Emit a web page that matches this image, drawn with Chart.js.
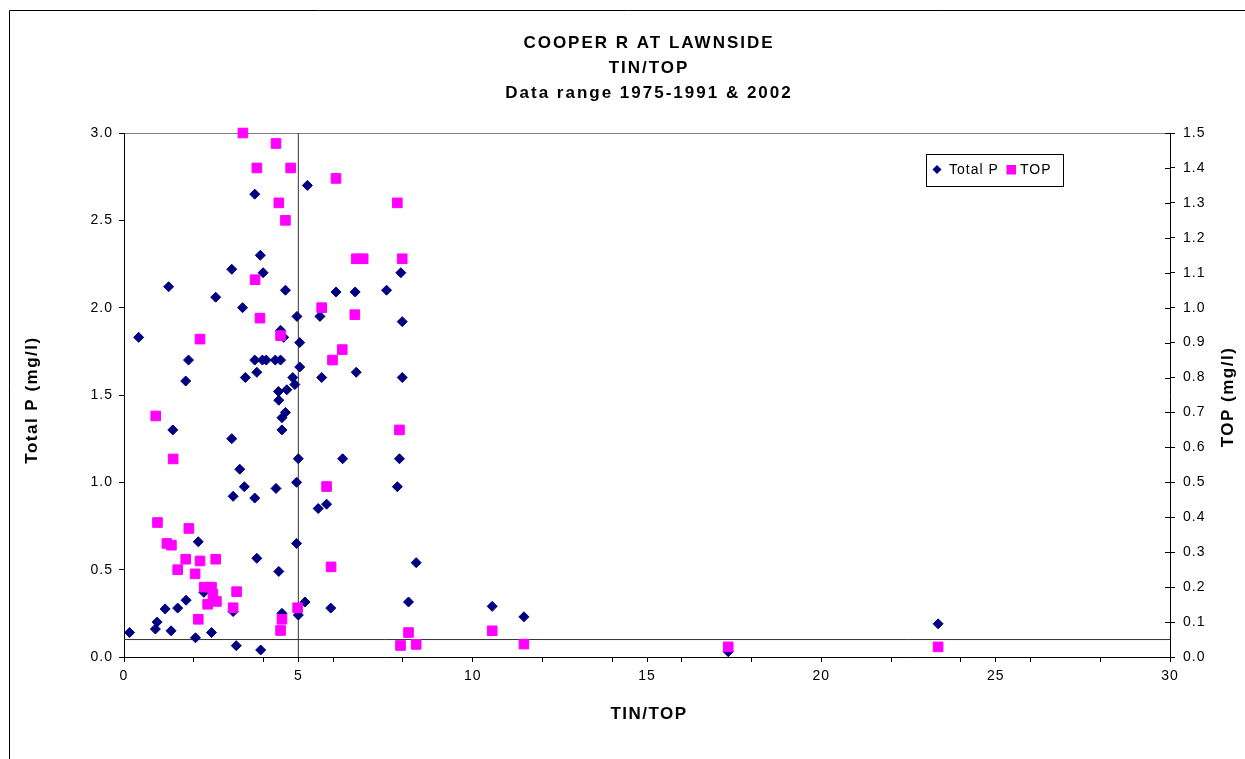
<!DOCTYPE html>
<html>
<head>
<meta charset="utf-8">
<title>Cooper R at Lawnside - TIN/TOP</title>
<script src="https://cdn.jsdelivr.net/npm/chart.js@4.4.1/dist/chart.umd.min.js"></script>
<style>
  html, body { margin: 0; padding: 0; background: #fff; }
  #wrap { width: 1245px; height: 759px; }
</style>
</head>
<body>
<div id="wrap"><canvas id="grafico" width="1245" height="759"></canvas></div>
<script>
const titleLines = ['COOPER R AT LAWNSIDE', 'TIN/TOP', 'Data range 1975-1991 & 2002'];
const xTitle = 'TIN/TOP';
const yTitle = 'Total P (mg/l)';
const y2Title = 'TOP (mg/l)';

// Total P (left axis) against TIN/TOP
const ratioP = [0.16, 0.42, 0.90, 0.95, 1.18, 1.28, 1.35, 1.40, 1.54, 1.77,
    1.78, 1.85, 2.05, 2.13, 2.29, 2.51, 2.63, 3.09, 3.09, 3.13,
    3.13, 3.22, 3.32, 3.40, 3.45, 3.48, 3.75, 3.75, 3.75, 3.81,
    3.81, 3.91, 3.92, 3.97, 3.99, 4.08, 4.34, 4.36, 4.43, 4.44,
    4.44, 4.49, 4.49, 4.53, 4.53, 4.53, 4.58, 4.63, 4.63, 4.67,
    4.84, 4.90, 4.95, 4.95, 4.96, 5.00, 5.00, 5.04, 5.04, 5.19,
    5.26, 5.57, 5.62, 5.67, 5.81, 5.93, 6.08, 6.27, 6.63, 6.66,
    7.53, 7.84, 7.90, 7.94, 7.98, 7.98, 8.16, 8.38, 10.56, 11.47,
    17.33, 23.35];
const totalP = [0.14, 1.83, 0.16, 0.20, 0.275, 2.12, 0.15, 1.30, 0.28, 1.58,
    0.325, 1.70, 0.11, 0.66, 0.37, 0.14, 2.06, 2.22, 1.25, 0.92,
    0.26, 0.065, 1.075, 2.00, 0.975, 1.60, 2.65, 1.70, 0.91, 1.63,
    0.565, 2.30, 0.04, 1.70, 2.20, 1.70, 1.70, 0.965, 1.52, 1.47,
    0.49, 1.87, 1.70, 1.37, 1.30, 0.25, 1.83, 2.10, 1.40, 1.53,
    1.60, 1.56, 1.00, 0.65, 1.95, 1.135, 0.24, 1.80, 1.66, 0.315,
    2.70, 0.85, 1.95, 1.60, 0.875, 0.28, 2.09, 1.135, 2.09, 1.63,
    2.10, 0.975, 1.135, 2.20, 1.92, 1.60, 0.315, 0.54, 0.29, 0.23,
    0.03, 0.19];

// TOP (right axis) against TIN/TOP
const ratioTOP = [0.91, 0.96, 1.23, 1.36, 1.41, 1.54, 1.77, 1.86, 2.04, 2.13,
    2.18, 2.18, 2.30, 2.40, 2.51, 2.55, 2.63, 2.65, 3.13, 3.23,
    3.41, 3.76, 3.81, 3.90, 4.36, 4.44, 4.49, 4.49, 4.53, 4.63,
    4.78, 4.98, 5.67, 5.81, 5.94, 5.98, 6.08, 6.26, 6.62, 6.66,
    6.86, 7.84, 7.90, 7.93, 7.98, 8.16, 8.38, 10.56, 11.47, 17.33,
    23.35];
const topValues = [0.69, 0.385, 0.325, 0.32, 0.567, 0.25, 0.28, 0.368, 0.238, 0.108,
    0.91, 0.275, 0.20, 0.151, 0.20, 0.18, 0.28, 0.159, 0.141, 0.187,
    1.50, 1.08, 1.40, 0.97, 1.47, 1.30, 0.92, 0.076, 0.108, 1.25,
    1.40, 0.141, 1.00, 0.488, 0.258, 0.85, 1.37, 0.88, 0.98, 1.14,
    1.14, 1.30, 0.65, 0.033, 1.14, 0.07, 0.036, 0.075, 0.037, 0.029,
    0.029];

// reference lines
const ratioLimit = 5;
const totalPLimit = 0.1;

const FONT = "'Liberation Sans', Arial, sans-serif";
const NAVY = '#000080';
const MAGENTA = '#ff00ff';

function pares(xs, ys) {
    return xs.map((x, i) => ({x: x, y: ys[i]}));
}

function textoRodado(ctx, texto, x, y) {
    ctx.save();
    ctx.translate(x, y);
    ctx.rotate(-Math.PI / 2);
    ctx.textAlign = 'center';
    ctx.textBaseline = 'middle';
    ctx.fillText(texto, 0, 0);
    ctx.restore();
}

const moldura = {
    id: 'moldura',
    beforeDraw(chart) {
        const ctx = chart.ctx;
        const area = chart.chartArea;
        ctx.save();
        ctx.fillStyle = '#fff';
        ctx.fillRect(0, 0, chart.width, chart.height);
        // outer frame (runs off the right and bottom edges)
        ctx.strokeStyle = '#000';
        ctx.lineWidth = 1;
        ctx.beginPath();
        ctx.moveTo(9.5, chart.height + 5);
        ctx.lineTo(9.5, 10.5);
        ctx.lineTo(chart.width + 5, 10.5);
        ctx.stroke();
        // top edge of plot area
        ctx.strokeStyle = '#808080';
        ctx.beginPath();
        ctx.moveTo(area.left, Math.round(area.top) + 0.5);
        ctx.lineTo(area.right, Math.round(area.top) + 0.5);
        ctx.stroke();
        ctx.restore();
        ctx.letterSpacing = '1px';
    },
    afterDraw(chart) {
        const ctx = chart.ctx;
        const area = chart.chartArea;
        const y2 = chart.scales.y2;
        ctx.save();
        // inner half of the right-axis tick marks
        ctx.strokeStyle = '#000';
        ctx.lineWidth = 1;
        ctx.beginPath();
        y2.ticks.forEach(t => {
            const py = Math.round(y2.getPixelForValue(t.value)) + 0.5;
            ctx.moveTo(area.right - 5, py);
            ctx.lineTo(area.right, py);
        });
        ctx.stroke();

        ctx.fillStyle = '#000';
        ctx.letterSpacing = '2px';
        ctx.font = 'bold 17px ' + FONT;
        ctx.textAlign = 'center';
        ctx.textBaseline = 'alphabetic';
        const cx = (area.left + area.right) / 2 + 2;
        titleLines.forEach((linha, i) => ctx.fillText(linha, cx, 48 + i * 25));
        ctx.letterSpacing = '1.5px';
        ctx.fillText(xTitle, cx, 719);
        textoRodado(ctx, yTitle, 32, 400);
        textoRodado(ctx, y2Title, 1228, 397);

        // legend
        ctx.letterSpacing = '1px';
        ctx.fillStyle = '#fff';
        ctx.fillRect(926.5, 154.5, 137, 32);
        ctx.strokeStyle = '#000';
        ctx.strokeRect(926.5, 154.5, 137, 32);
        ctx.fillStyle = NAVY;
        ctx.beginPath();
        ctx.moveTo(937, 165);
        ctx.lineTo(941.5, 169.5);
        ctx.lineTo(937, 174);
        ctx.lineTo(932.5, 169.5);
        ctx.closePath();
        ctx.fill();
        ctx.fillStyle = MAGENTA;
        ctx.fillRect(1006.5, 165, 9.5, 9.5);
        ctx.fillStyle = '#000';
        ctx.font = '14px ' + FONT;
        ctx.textAlign = 'left';
        ctx.textBaseline = 'middle';
        ctx.fillText('Total P', 949, 170);
        ctx.fillText('TOP', 1020, 170);
        ctx.restore();
    }
};

const tickFont = {family: FONT, size: 14};

new Chart(document.getElementById('grafico'), {
    type: 'scatter',
    data: {
        datasets: [
            {
                label: 'Total P',
                data: pares(ratioP, totalP),
                yAxisID: 'y',
                pointStyle: 'rectRot',
                pointRadius: 5,
                backgroundColor: NAVY,
                borderColor: NAVY,
                borderWidth: 1,
                clip: false,
                order: 1
            },
            {
                label: 'TOP',
                data: pares(ratioTOP, topValues),
                yAxisID: 'y2',
                pointStyle: 'rect',
                pointRadius: 6.8,
                backgroundColor: MAGENTA,
                borderColor: MAGENTA,
                borderWidth: 1,
                clip: false,
                order: 0
            },
            {
                label: 'limite TIN/TOP',
                data: [{x: ratioLimit, y: 0}, {x: ratioLimit, y: 3}],
                yAxisID: 'y',
                showLine: true,
                pointRadius: 0,
                borderColor: '#333',
                borderWidth: 1,
                order: 2
            },
            {
                label: 'limite Total P',
                data: [{x: 0, y: totalPLimit}, {x: 30, y: totalPLimit}],
                yAxisID: 'y',
                showLine: true,
                pointRadius: 0,
                borderColor: '#333',
                borderWidth: 1,
                order: 2
            }
        ]
    },
    options: {
        responsive: false,
        animation: false,
        events: [],
        layout: {padding: {top: 133, left: 0, right: 0, bottom: 0}},
        plugins: {
            legend: {display: false},
            title: {display: false},
            tooltip: {enabled: false}
        },
        scales: {
            x: {
                type: 'linear',
                min: 0,
                max: 30,
                afterFit: s => { s.height = 102; },
                border: {display: true, color: '#000', width: 1},
                grid: {
                    drawOnChartArea: false,
                    tickLength: 5,
                    tickColor: c => (c.tick && (c.tick.value % 2 === 0 || c.tick.value % 5 === 0)) ? '#000' : 'rgba(0,0,0,0)'
                },
                ticks: {
                    stepSize: 1,
                    autoSkip: false,
                    maxRotation: 0,
                    padding: 6,
                    color: '#000',
                    font: tickFont,
                    callback: v => v % 5 === 0 ? String(v) : ''
                }
            },
            y: {
                position: 'left',
                min: 0,
                max: 3,
                afterFit: s => { s.width = 124; },
                border: {display: true, color: '#000', width: 1},
                grid: {drawOnChartArea: false, tickLength: 5, tickColor: '#000'},
                ticks: {
                    stepSize: 0.5,
                    padding: 6,
                    color: '#000',
                    font: tickFont,
                    callback: v => v.toFixed(1)
                }
            },
            y2: {
                position: 'right',
                min: 0,
                max: 1.5,
                afterFit: s => { s.width = 75; },
                border: {display: true, color: '#000', width: 1},
                grid: {drawOnChartArea: false, tickLength: 5, tickColor: '#000'},
                ticks: {
                    stepSize: 0.1,
                    padding: 8,
                    color: '#000',
                    font: tickFont,
                    callback: v => v.toFixed(1)
                }
            }
        }
    },
    plugins: [moldura]
});
</script>
</body>
</html>
